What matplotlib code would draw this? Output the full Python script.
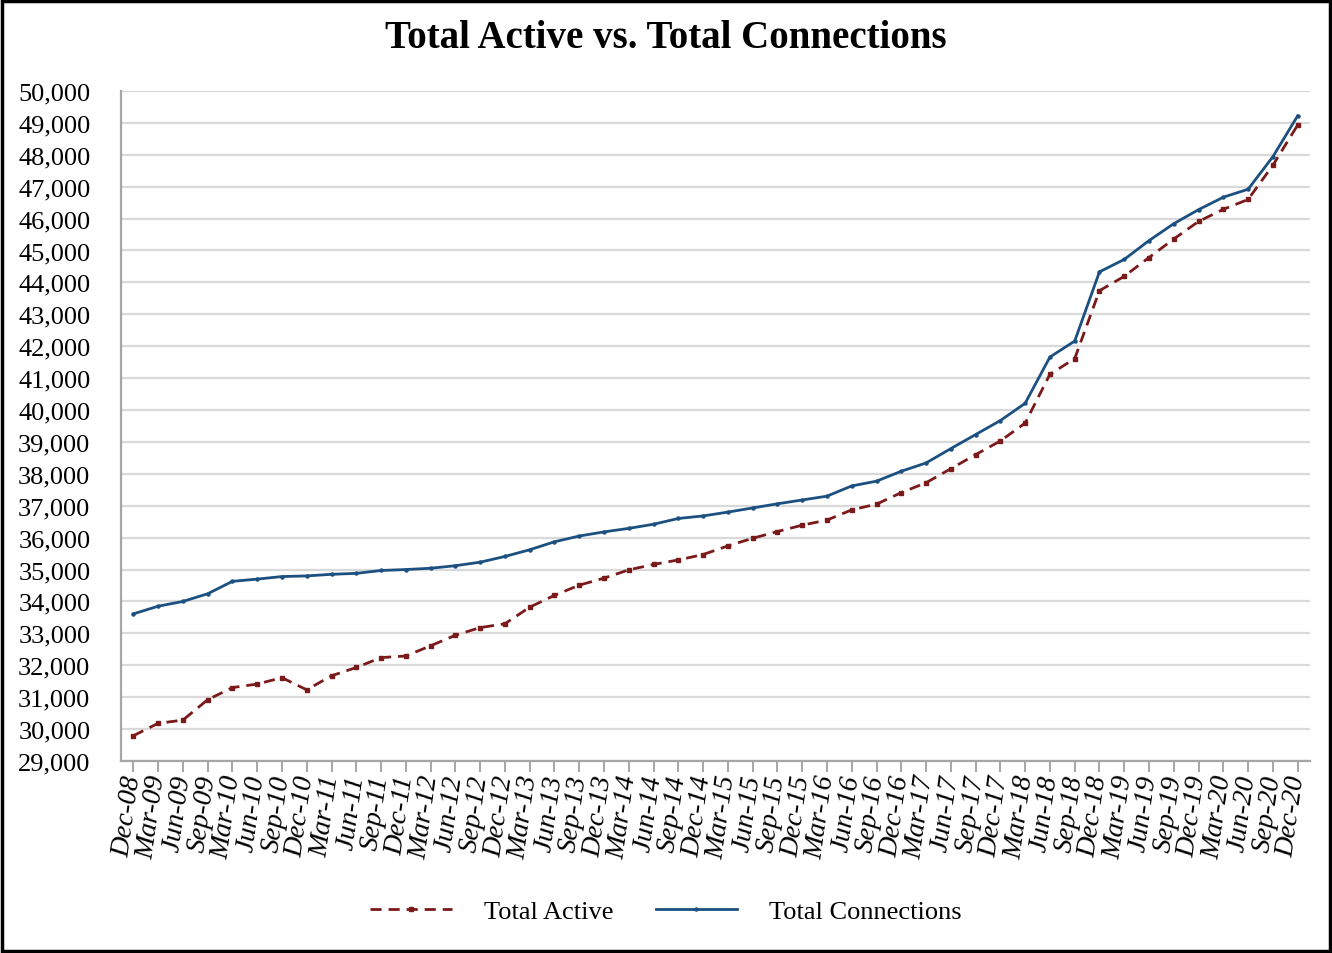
import matplotlib
matplotlib.use('Agg')
import matplotlib.pyplot as plt
from matplotlib.patches import Rectangle

# ─────────────────────────────────────────────
# Data (quarterly)
# ─────────────────────────────────────────────
quarters = [
    'Dec-08', 'Mar-09', 'Jun-09', 'Sep-09', 'Mar-10', 'Jun-10', 'Sep-10', 'Dec-10',
    'Mar-11', 'Jun-11', 'Sep-11', 'Dec-11', 'Mar-12', 'Jun-12', 'Sep-12', 'Dec-12',
    'Mar-13', 'Jun-13', 'Sep-13', 'Dec-13', 'Mar-14', 'Jun-14', 'Sep-14', 'Dec-14',
    'Mar-15', 'Jun-15', 'Sep-15', 'Dec-15', 'Mar-16', 'Jun-16', 'Sep-16', 'Dec-16',
    'Mar-17', 'Jun-17', 'Sep-17', 'Dec-17', 'Mar-18', 'Jun-18', 'Sep-18', 'Dec-18',
    'Mar-19', 'Jun-19', 'Sep-19', 'Dec-19', 'Mar-20', 'Jun-20', 'Sep-20', 'Dec-20',
]

total_active = [
    29790, 30180, 30280, 30920, 31300, 31410, 31610, 31230,
    31670, 31930, 32240, 32290, 32610, 32940, 33180, 33300,
    33820, 34190, 34510, 34730, 34990, 35160, 35300, 35470,
    35740, 35980, 36190, 36390, 36550, 36870, 37050, 37410,
    37720, 38160, 38600, 39030, 39590, 41120, 41610, 43740,
    44190, 44780, 45360, 45910, 46290, 46600, 47670, 48930,
]

total_connections = [
    33610, 33850, 34000, 34240, 34630, 34700, 34780, 34800,
    34850, 34880, 34970, 35000, 35040, 35120, 35230, 35410,
    35620, 35870, 36050, 36180, 36290, 36420, 36600, 36680,
    36800, 36930, 37060, 37180, 37300, 37620, 37770, 38080,
    38340, 38790, 39230, 39670, 40210, 41660, 42160, 44330,
    44720, 45310, 45840, 46280, 46670, 46920, 47940, 49220,
]

y_ticks = list(range(29000, 50001, 1000))

# ─────────────────────────────────────────────
# Chart
# ─────────────────────────────────────────────
plt.rcParams['font.family'] = ['Liberation Serif', 'DejaVu Serif']

fig = plt.figure(figsize=(13.32, 9.54), dpi=100)
ax = fig.add_axes([0.0908, 0.2013, 0.8927, 0.7023])

x = list(range(len(quarters)))

ax.plot(x, total_active, color='#7B1A1A', linewidth=2.0, linestyle=(0, (4, 2.5)),
        marker='s', markersize=3.5, label='Total Active')
ax.plot(x, total_connections, color='#1B5080', linewidth=2.0,
        marker='o', markersize=2.2, label='Total Connections')

ax.set_xlim(-0.5, len(quarters) - 0.5)
ax.set_ylim(29000, 50000)
ax.set_yticks(y_ticks)
ax.set_yticklabels([f'{v:,}' for v in y_ticks], fontsize=19)
ax.set_xticks(x)
ax.set_xticklabels(quarters, fontsize=20, style='italic', rotation=82,
                   ha='right', va='center', rotation_mode='anchor')

ax.grid(True, axis='y', color='#d9d9d9', linewidth=1.6)
ax.set_axisbelow(True)
for s in ['top', 'right']:
    ax.spines[s].set_visible(False)
for s in ['left', 'bottom']:
    ax.spines[s].set_color('#a6a6a6')
    ax.spines[s].set_linewidth(1.6)

ax.tick_params(axis='y', length=0, pad=22)
ax.tick_params(axis='x', length=8, width=1.4, color='#a6a6a6', pad=2)

fig.suptitle('Total Active vs. Total Connections', fontsize=28, fontweight='bold',
             y=0.96, va='center')

fig.legend(loc='center', bbox_to_anchor=(0.5, 0.044), ncol=2, frameon=False,
           fontsize=19, handlelength=3.1, handletextpad=1.2, columnspacing=1.6,
           markerscale=1.0)

# black border around the whole picture
fig.add_artist(Rectangle((0.0015, 0.002), 0.997, 0.996, transform=fig.transFigure,
                         fill=False, edgecolor='black', linewidth=2.5))

fig.savefig('out.png', dpi=100)
